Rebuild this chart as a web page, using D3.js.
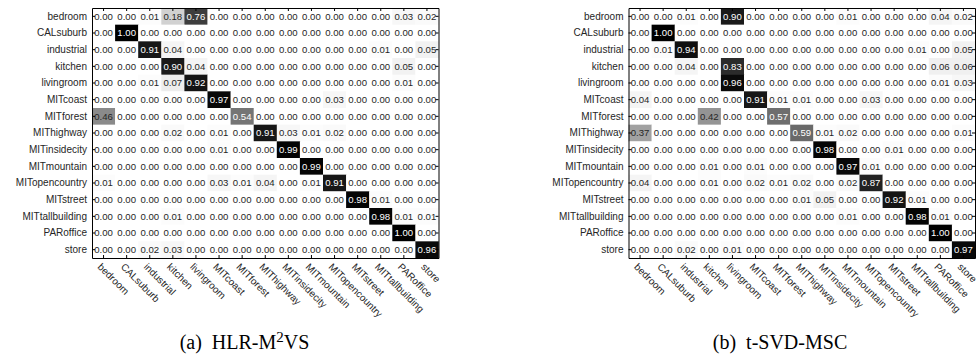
<!DOCTYPE html>
<html>
<head>
<meta charset="utf-8">
<script src="https://cdn.jsdelivr.net/npm/d3@7"></script>
<style>
  html, body { margin: 0; padding: 0; background: #fff; }
  svg { display: block; }
</style>
</head>
<body>
<svg id="chart" width="977" height="355"></svg>
<script>
const categories = ["bedroom","CALsuburb","industrial","kitchen","livingroom","MITcoast","MITforest","MIThighway","MITinsidecity","MITmountain","MITopencountry","MITstreet","MITtallbuilding","PARoffice","store"];

const valuesA = [
  [0.00,0.00,0.01,0.18,0.76,0.00,0.00,0.00,0.00,0.00,0.00,0.00,0.00,0.03,0.02],
  [0.00,1.00,0.00,0.00,0.00,0.00,0.00,0.00,0.00,0.00,0.00,0.00,0.00,0.00,0.00],
  [0.00,0.00,0.91,0.04,0.00,0.00,0.00,0.00,0.00,0.00,0.00,0.00,0.01,0.00,0.05],
  [0.00,0.00,0.00,0.90,0.04,0.00,0.00,0.00,0.00,0.00,0.00,0.00,0.00,0.05,0.00],
  [0.00,0.00,0.01,0.07,0.92,0.00,0.00,0.00,0.00,0.00,0.00,0.00,0.00,0.01,0.00],
  [0.00,0.00,0.00,0.00,0.00,0.97,0.00,0.00,0.00,0.00,0.03,0.00,0.00,0.00,0.00],
  [0.46,0.00,0.00,0.00,0.00,0.00,0.54,0.00,0.00,0.00,0.00,0.00,0.00,0.00,0.00],
  [0.00,0.00,0.00,0.02,0.00,0.01,0.00,0.91,0.03,0.01,0.02,0.00,0.00,0.00,0.00],
  [0.00,0.00,0.00,0.00,0.00,0.01,0.00,0.00,0.99,0.00,0.00,0.00,0.00,0.00,0.00],
  [0.00,0.00,0.00,0.00,0.00,0.00,0.00,0.00,0.00,0.99,0.00,0.00,0.00,0.00,0.00],
  [0.01,0.00,0.00,0.00,0.00,0.03,0.01,0.04,0.00,0.01,0.91,0.00,0.00,0.00,0.00],
  [0.00,0.00,0.00,0.00,0.00,0.00,0.00,0.00,0.00,0.00,0.00,0.98,0.01,0.00,0.00],
  [0.00,0.00,0.00,0.01,0.00,0.00,0.00,0.00,0.00,0.00,0.00,0.00,0.98,0.01,0.01],
  [0.00,0.00,0.00,0.00,0.00,0.00,0.00,0.00,0.00,0.00,0.00,0.00,0.00,1.00,0.00],
  [0.00,0.00,0.02,0.03,0.00,0.00,0.00,0.00,0.00,0.00,0.00,0.00,0.00,0.00,0.96]
];

const valuesB = [
  [0.00,0.00,0.01,0.00,0.90,0.00,0.00,0.00,0.00,0.01,0.00,0.00,0.00,0.04,0.02],
  [0.00,1.00,0.00,0.00,0.00,0.00,0.00,0.00,0.00,0.00,0.00,0.00,0.00,0.00,0.00],
  [0.00,0.01,0.94,0.00,0.00,0.00,0.00,0.00,0.00,0.00,0.00,0.00,0.01,0.00,0.05],
  [0.00,0.00,0.04,0.00,0.83,0.00,0.00,0.00,0.00,0.00,0.00,0.00,0.00,0.06,0.06],
  [0.00,0.00,0.00,0.00,0.96,0.00,0.00,0.00,0.00,0.00,0.00,0.00,0.00,0.01,0.03],
  [0.04,0.00,0.00,0.00,0.00,0.91,0.01,0.01,0.00,0.00,0.03,0.00,0.00,0.00,0.00],
  [0.00,0.00,0.00,0.42,0.00,0.00,0.57,0.00,0.00,0.00,0.00,0.00,0.00,0.00,0.00],
  [0.37,0.00,0.00,0.00,0.00,0.00,0.00,0.59,0.01,0.02,0.00,0.00,0.00,0.00,0.01],
  [0.00,0.00,0.00,0.00,0.00,0.00,0.00,0.00,0.98,0.00,0.00,0.01,0.00,0.00,0.00],
  [0.00,0.00,0.00,0.01,0.00,0.01,0.00,0.00,0.00,0.97,0.01,0.00,0.00,0.00,0.00],
  [0.04,0.00,0.00,0.01,0.00,0.02,0.01,0.02,0.00,0.02,0.87,0.00,0.00,0.00,0.00],
  [0.00,0.00,0.00,0.00,0.00,0.00,0.00,0.01,0.05,0.00,0.00,0.92,0.01,0.00,0.00],
  [0.00,0.00,0.00,0.00,0.00,0.00,0.00,0.00,0.00,0.01,0.00,0.00,0.98,0.01,0.00],
  [0.00,0.00,0.00,0.00,0.00,0.00,0.00,0.00,0.00,0.00,0.00,0.00,0.00,1.00,0.00],
  [0.00,0.00,0.02,0.00,0.01,0.00,0.00,0.00,0.00,0.00,0.00,0.00,0.00,0.00,0.97]
];

const captionA = ["(a)  HLR-M", "2", "VS"];
const captionB = ["(b)  t-SVD-MSC"];

const svg = d3.select("#chart");
const color = d3.scaleLinear().domain([0, 1]).range(["#ffffff", "#000000"]);
const labelFont = "'Liberation Sans', Arial, Helvetica, sans-serif";
const textColor = "#262626";

function drawPanel(values, x0, caption, captionX) {
  const w = 346.5, top = 8, bottom = 258;
  const x = d3.scaleBand().domain(categories).range([x0, x0 + w]);
  const y = d3.scaleBand().domain(categories).range([top, bottom]);
  const g = svg.append("g");

  const cells = [];
  values.forEach((row, i) => row.forEach((v, j) => cells.push({r: categories[i], c: categories[j], v})));

  g.selectAll("rect.cell").data(cells).join("rect")
    .attr("class", "cell")
    .attr("x", d => x(d.c))
    .attr("y", d => y(d.r))
    .attr("width", x.bandwidth() + 0.3)
    .attr("height", y.bandwidth() + 0.3)
    .attr("fill", d => color(d.v));

  g.selectAll("text.val").data(cells).join("text")
    .attr("class", "val")
    .attr("x", d => x(d.c) + x.bandwidth() / 2)
    .attr("y", d => y(d.r) + y.bandwidth() / 2)
    .attr("dy", "0.35em")
    .attr("text-anchor", "middle")
    .style("font-family", labelFont)
    .style("font-size", "9.6px")
    .attr("fill", d => d.v > 0.5 ? "#ffffff" : textColor)
    .text(d => d.v.toFixed(2));

  const styleAxis = sel => {
    sel.selectAll("path.domain").attr("stroke", "#000").attr("stroke-width", 1);
    sel.selectAll(".tick line").attr("stroke", "#000");
    sel.selectAll("text").style("font-family", labelFont).style("font-size", "10px").attr("fill", textColor);
    sel.attr("font-family", null).attr("font-size", null);
  };

  const left = g.append("g").attr("transform", `translate(${x0},0)`)
    .call(d3.axisLeft(y).tickSize(-3).tickSizeOuter(0).tickPadding(5));
  styleAxis(left);

  const right = g.append("g").attr("transform", `translate(${x0 + w},0)`)
    .call(d3.axisRight(y).tickSize(-3).tickSizeOuter(0).tickFormat(""));
  styleAxis(right);

  const topAx = g.append("g").attr("transform", `translate(0,${top})`)
    .call(d3.axisTop(x).tickSize(-3).tickSizeOuter(0).tickFormat(""));
  styleAxis(topAx);

  const bot = g.append("g").attr("transform", `translate(0,${bottom})`)
    .call(d3.axisBottom(x).tickSize(-3).tickSizeOuter(0));
  styleAxis(bot);
  bot.selectAll(".tick text")
    .attr("x", 0).attr("y", 0).attr("dy", 0)
    .attr("transform", "translate(-6.5,9.5) rotate(45)")
    .style("text-anchor", "start");

  const cap = svg.append("text")
    .attr("x", captionX)
    .attr("y", 349)
    .attr("text-anchor", "middle")
    .style("font-family", "'Liberation Serif', 'Times New Roman', serif")
    .style("font-size", "20px")
    .attr("fill", "#000")
    .attr("xml:space", "preserve");
  cap.append("tspan").text(caption[0]);
  if (caption.length > 1) {
    cap.append("tspan").attr("dy", -7).style("font-size", "15px").text(caption[1]);
    cap.append("tspan").attr("dy", 7).text(caption[2]);
  }
}

drawPanel(valuesA, 92, captionA, 244.5);
drawPanel(valuesB, 628.5, captionB, 780);
</script>
</body>
</html>
